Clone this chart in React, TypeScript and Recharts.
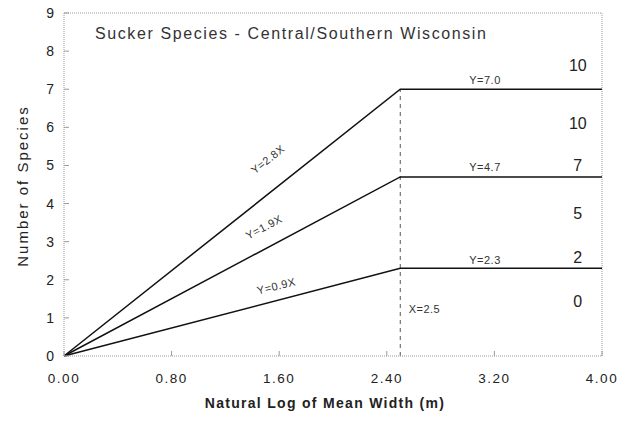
import React from 'react';
import {
    ComposedChart, Line, XAxis, YAxis, ReferenceLine, ReferenceDot,
} from 'recharts';

// x positions (natural log of mean width) and the three regression lines
const widths = [0, 2.5, 4.0];
const upperLine = [0, 7.0, 7.0];
const middleLine = [0, 4.7, 4.7];
const lowerLine = [0, 2.3, 2.3];

const xTicks = [0, 0.8, 1.6, 2.4, 3.2, 4.0];
const yTicks = [0, 1, 2, 3, 4, 5, 6, 7, 8, 9];

// equation labels: text, x, y, rotation
const lineLabels = [
    { text: 'Y=2.8X', x: 1.52, y: 5.14, angle: -38 },
    { text: 'Y=1.9X', x: 1.49, y: 3.36, angle: -28 },
    { text: 'Y=0.9X', x: 1.58, y: 1.81, angle: -14 },
    { text: 'Y=7.0', x: 3.13, y: 7.22, angle: 0 },
    { text: 'Y=4.7', x: 3.13, y: 4.93, angle: 0 },
    { text: 'Y=2.3', x: 3.13, y: 2.49, angle: 0 },
    { text: 'X=2.5', x: 2.68, y: 1.21, angle: 0 },
];

// species counts written down the right side
const sideCounts = ['10', '10', '7', '5', '2', '0'];
const sideCountY = [7.58, 6.06, 4.96, 3.7, 2.55, 1.39];

const data = widths.map((w, i) => ({
    x: w,
    upper: upperLine[i],
    middle: middleLine[i],
    lower: lowerLine[i],
}));

const FONT = '"Liberation Sans", Arial, sans-serif';
const frame = '#9a9a9a';

export default function App() {
    return (
        <div style={{ position: 'absolute', left: 0, top: 0, width: 621, height: 432, background: '#fff', fontFamily: FONT }}>
            <ComposedChart
                width={621}
                height={432}
                data={data}
                margin={{ top: 13, right: 19, left: 24, bottom: 46 }}
            >
                <XAxis
                    dataKey="x"
                    type="number"
                    domain={[0, 4]}
                    ticks={xTicks}
                    tickFormatter={(v) => v.toFixed(2)}
                    height={30}
                    tickSize={-5}
                    tickMargin={22}
                    axisLine={{ stroke: frame, strokeDasharray: '1 1' }}
                    tickLine={{ stroke: frame }}
                    tick={{ fontSize: 13.5, fill: '#222', fontFamily: FONT, letterSpacing: 1.5 }}
                    interval={0}
                />
                <YAxis
                    type="number"
                    domain={[0, 9]}
                    ticks={yTicks}
                    width={40}
                    tickSize={-5}
                    tickMargin={15}
                    axisLine={{ stroke: frame, strokeDasharray: '1 1' }}
                    tickLine={{ stroke: frame }}
                    tick={{ fontSize: 14, fill: '#222', fontFamily: FONT }}
                    interval={0}
                />
                <ReferenceLine y={9} stroke={frame} strokeDasharray="1 1" />
                <ReferenceLine x={4} stroke={frame} strokeDasharray="1 1" />
                <ReferenceLine
                    segment={[{ x: 2.5, y: 0 }, { x: 2.5, y: 7 }]}
                    stroke="#555"
                    strokeDasharray="4 4"
                />
                <Line dataKey="upper" stroke="#111" strokeWidth={1.5} dot={false} isAnimationActive={false} />
                <Line dataKey="middle" stroke="#111" strokeWidth={1.5} dot={false} isAnimationActive={false} />
                <Line dataKey="lower" stroke="#111" strokeWidth={1.5} dot={false} isAnimationActive={false} />
                {lineLabels.map((l) => (
                    <ReferenceDot
                        key={l.text}
                        x={l.x}
                        y={l.y}
                        r={0}
                        shape={(p: any) => (
                            <text
                                x={p.cx}
                                y={p.cy}
                                textAnchor="middle"
                                dominantBaseline="middle"
                                transform={`rotate(${l.angle} ${p.cx} ${p.cy})`}
                                fontSize={11}
                                fill="#333"
                                fontFamily={FONT}
                                letterSpacing={0.5}
                            >
                                {l.text}
                            </text>
                        )}
                    />
                ))}
                {sideCounts.map((c, i) => (
                    <ReferenceDot
                        key={i}
                        x={3.82}
                        y={sideCountY[i]}
                        r={0}
                        shape={(p: any) => (
                            <text
                                x={p.cx}
                                y={p.cy}
                                textAnchor="middle"
                                dominantBaseline="middle"
                                fontSize={16}
                                fill="#222"
                                fontFamily={FONT}
                            >
                                {c}
                            </text>
                        )}
                    />
                ))}
            </ComposedChart>
            <div style={{ position: 'absolute', left: 95, top: 25, fontSize: 16, letterSpacing: 1.6, color: '#333', whiteSpace: 'nowrap' }}>
                Sucker Species - Central/Southern Wisconsin
            </div>
            <div style={{ position: 'absolute', left: 22, top: 186, transform: 'translate(-50%, -50%) rotate(-90deg)', fontSize: 15, letterSpacing: 2, color: '#222', whiteSpace: 'nowrap' }}>
                Number of Species
            </div>
            <div style={{ position: 'absolute', left: 325, top: 403, transform: 'translate(-50%, -50%)', fontSize: 14, fontWeight: 'bold', letterSpacing: 1.3, color: '#222', whiteSpace: 'nowrap' }}>
                Natural Log of Mean Width (m)
            </div>
        </div>
    );
}
